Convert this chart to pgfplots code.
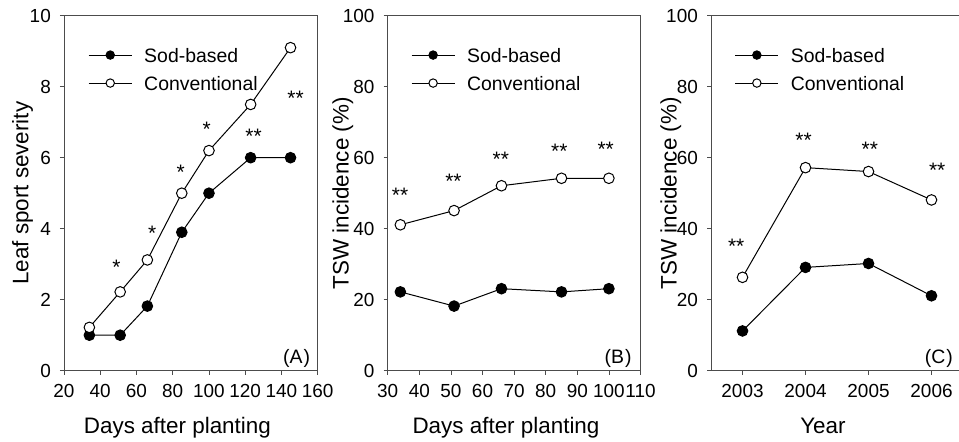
\documentclass[border=0pt]{standalone}
\usepackage{fontspec}
\setmainfont{Liberation Sans}
\usepackage{pgfplots}
\pgfplotsset{compat=1.18}

\tikzset{tag/.style={font=\fontsize{19.5}{20}\selectfont, anchor=base east, inner sep=0pt}}
\pgfplotsset{
 panel/.style={
  scale only axis, anchor=south west, height=355bp,
  axis line style={black!70, line width=0.8bp},
  tick style={black!70, line width=0.8bp},
  tick align=outside, major tick length=4bp, tick pos=left,
  ticklabel style={font=\fontsize{19}{19}\selectfont},
  /pgf/number format/assume math mode=true,
  /pgf/number format/set thousands separator={},
  xticklabel style={anchor=base, inner sep=0pt, yshift=-23bp},
  yticklabel style={anchor=east, inner sep=0pt, xshift=-9bp},
  label style={font=\fontsize{22.5}{24}\selectfont},
  legend style={draw=none, fill=none, anchor=north west,
    font=\fontsize{19.5}{22}\selectfont, row sep=14bp, column sep=0bp,
    nodes={inner sep=0pt, text height=14bp, text depth=0bp}},
  legend cell align=left,
  legend image code/.code={\draw[mark repeat=2,mark phase=2,##1, mark size=4.2bp] plot coordinates {(0bp,0bp) (21.5bp,0bp) (43bp,0bp)}; \path (55bp,0bp);},
 },
 sod/.style={black, line width=1bp, mark=*, mark size=5.3bp, mark options={fill=black, solid}},
 conv/.style={black, line width=1bp, mark=*, mark size=5.3bp, mark options={fill=white, solid}},
 stars/.style={only marks, mark=none, nodes near coords, point meta=explicit symbolic,
   every node near coord/.style={anchor=center, font=\fontsize{21}{21}\selectfont, inner sep=0pt}},
}

\begin{document}
\begin{tikzpicture}
\useasboundingbox (0bp,0bp) rectangle (959bp,442bp);

% ---------------- Panel A ----------------
\begin{axis}[panel, at={(64bp,71.3bp)}, width=253.7bp,
  xmin=20, xmax=160, ymin=0, ymax=10,
  xtick={20,40,...,160}, ytick={0,2,...,10},
  xlabel={Days after planting}, ylabel={Leaf sport severity},
  xlabel style={at={(axis description cs:0.447,0)}, anchor=base, yshift=-63bp},
  ylabel style={at={(axis description cs:-0.14,0.5)}, anchor=base},
  legend style={at={(axis description cs:0.083,0.915)}},
]
\addplot[sod] table {
x y
34 1.0
51 1.0
66 1.82
85 3.9
100 5.0
123 6.0
145 6.0
};
\addplot[conv] table {
x y
34 1.22
51 2.22
66 3.12
85 5.0
100 6.2
123 7.5
145 9.1
};
\addplot[stars] table[meta=s] {
x y s
49 2.90 *
68.7 3.88 *
84.4 5.58 *
98.7 6.80 *
124.6 6.61 **
147.8 7.66 **
};
\legend{Sod-based, Conventional}
\node[tag] at (axis description cs:1,0) [xshift=-7.5bp, yshift=6.7bp] {(A\kern1bp)};
\end{axis}

% ---------------- Panel B ----------------
\begin{axis}[panel, at={(387.7bp,71.3bp)}, width=252.8bp,
  xmin=30, xmax=110, ymin=0, ymax=100,
  xtick={30,40,...,110}, ytick={0,20,...,100},
  xlabel={Days after planting}, ylabel={TSW incidence (\%)},
  xlabel style={at={(axis description cs:0.468,0)}, anchor=base, yshift=-63bp},
  ylabel style={at={(axis description cs:-0.155,0.5)}, anchor=base},
  legend style={at={(axis description cs:0.08,0.915)}},
]
\addplot[sod] table {
x y
34 22.2
51 18.2
66 23.1
85 22.2
100 23.1
};
\addplot[conv] table {
x y
34 41.1
51 45.1
66 52.1
85 54.2
100 54.2
};
\addplot[stars] table[meta=s] {
x y s
33.9 49.5 **
50.8 53.4 **
65.8 59.6 **
84.3 61.7 **
99.0 62.4 **
};
\legend{Sod-based, Conventional}
\node[tag] at (axis description cs:1,0) [xshift=-8.8bp, yshift=6.7bp] {(B\kern1bp)};
\end{axis}

% ---------------- Panel C ----------------
\begin{axis}[panel, at={(711bp,71.3bp)}, width=252bp,
  xmin=-0.5, xmax=3.5, ymin=0, ymax=100,
  xtick={0,1,2,3}, xticklabels={2003,2004,2005,2006}, ytick={0,20,...,100},
  xlabel={Year}, ylabel={TSW incidence (\%)},
  xlabel style={at={(axis description cs:0.444,0)}, anchor=base, yshift=-63bp},
  ylabel style={at={(axis description cs:-0.136,0.5)}, anchor=base},
  legend style={at={(axis description cs:0.082,0.915)}},
]
\addplot[sod] table {
x y
0 11.2
1 29.1
2 30.2
3 21.1
};
\addplot[conv] table {
x y
0 26.3
1 57.2
2 56.1
3 48.1
};
\addplot[stars] table[meta=s] {
x y s
-0.10 35.0 **
0.97 64.9 **
2.02 62.4 **
3.09 56.5 **
};
\legend{Sod-based, Conventional}
\node[tag] at (axis description cs:1,0) [xshift=-10bp, yshift=6.7bp] {(C\kern1bp)};
\end{axis}
\end{tikzpicture}
\end{document}
